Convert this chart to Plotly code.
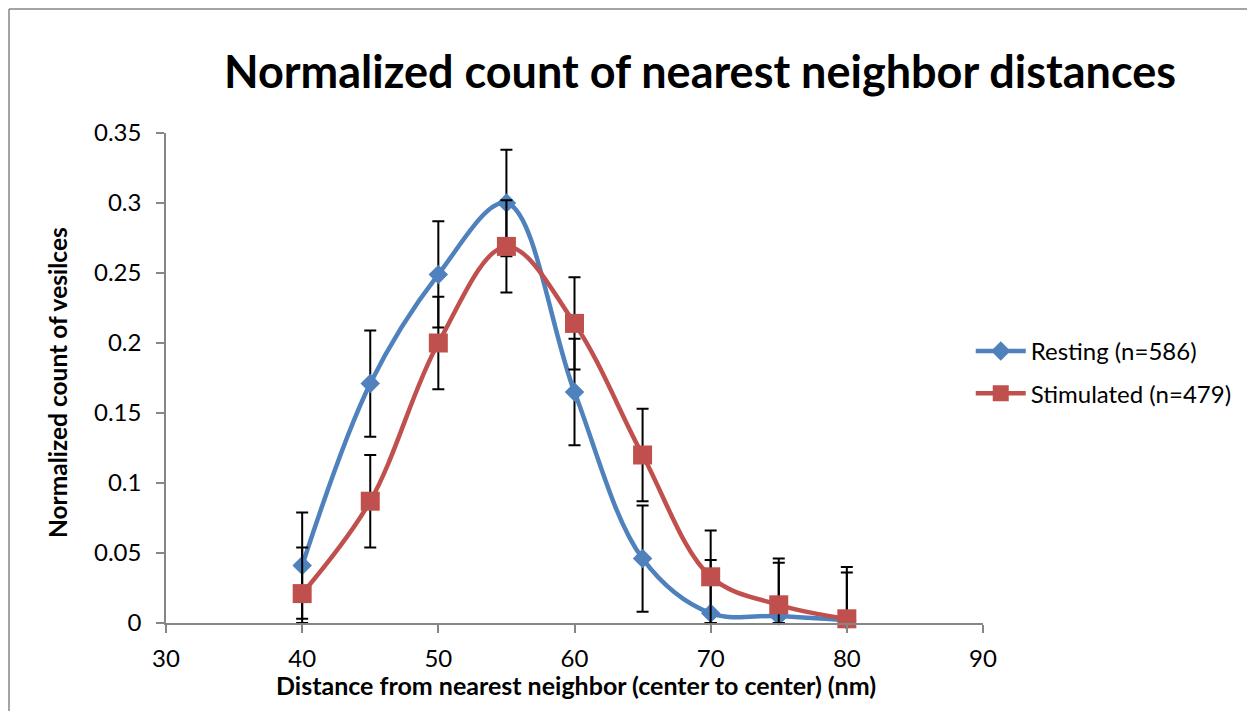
import plotly.graph_objects as go

distance = [40, 45, 50, 55, 60, 65, 70, 75, 80]
resting = [0.041, 0.171, 0.249, 0.300, 0.165, 0.046, 0.007, 0.005, 0.002]
resting_err = [0.038, 0.038, 0.038, 0.038, 0.038, 0.038, 0.038, 0.038, 0.038]
stimulated = [0.021, 0.087, 0.200, 0.269, 0.214, 0.120, 0.033, 0.013, 0.003]
stimulated_err = [0.033, 0.033, 0.033, 0.033, 0.033, 0.033, 0.033, 0.033, 0.033]

x_ticks = [30, 40, 50, 60, 70, 80, 90]
y_ticks = [0, 0.05, 0.1, 0.15, 0.2, 0.25, 0.3, 0.35]
y_tick_text = ["0", "0.05", "0.1", "0.15", "0.2", "0.25", "0.3", "0.35"]

FONT = "Lato"
AXIS_COLOR = "#868686"
BLUE = "#4F81BD"
RED = "#C0504D"
OFF = 8  # default page body margin

fig = go.Figure()

series = [
    ("Resting (n=586)", resting, resting_err, BLUE, "diamond", 15),
    ("Stimulated (n=479)", stimulated, stimulated_err, RED, "square", 19),
]
for name, vals, errs, color, sym, size in series:
    err_minus = [min(e, v) for e, v in zip(errs, vals)]
    fig.add_trace(go.Scatter(
        x=distance, y=vals, name=name, mode="lines+markers", legendgroup=name,
        line=dict(color=color, width=4.5, shape="spline", smoothing=1.0),
        marker=dict(symbol=sym, size=size, color=color, line=dict(width=0)),
        error_y=dict(type="data", array=errs, arrayminus=err_minus,
                     symmetric=False, color="black", thickness=2, width=6),
        cliponaxis=False,
    ))

bx0 = (9 - 166) / 817
by1 = (623 - 9) / 490
fig.update_layout(
    width=1255, height=711,
    paper_bgcolor="white", plot_bgcolor="white",
    margin=dict(l=166 - OFF, r=272 + OFF, t=133 - OFF, b=88 + OFF),
    font=dict(family=FONT, color="black", size=24),
    title=dict(text="<b>Normalized count of nearest neighbor distances</b>",
               font=dict(family=FONT, size=45, color="black"),
               xref="paper", x=(700 - 166) / 817, xanchor="center",
               yref="container", y=1 - (72 - OFF) / 711, yanchor="middle"),
    showlegend=True,
    legend=dict(x=0.985, y=0.6, xanchor="left", yanchor="top",
                font=dict(family=FONT, size=24, color="black"),
                itemwidth=50, bgcolor="rgba(0,0,0,0)", tracegroupgap=8),
    xaxis=dict(range=[30, 90], tickvals=x_ticks, ticks="outside", ticklen=8,
               tickcolor=AXIS_COLOR, tickwidth=1.5, showline=True,
               linecolor=AXIS_COLOR, linewidth=1.5, showgrid=False,
               zeroline=False, tickfont=dict(size=24, family=FONT),
               ticklabelstandoff=5),
    yaxis=dict(range=[0, 0.35], tickvals=y_ticks, ticktext=y_tick_text,
               ticks="outside", ticklen=8, tickcolor=AXIS_COLOR, tickwidth=1.5,
               showline=True, linecolor=AXIS_COLOR, linewidth=1.5,
               showgrid=False, zeroline=False,
               tickfont=dict(size=24, family=FONT), ticklabelstandoff=10),
    annotations=[
        dict(text="<b>Normalized count of vesilces</b>", xref="paper", yref="paper",
             x=(57 - 166) / 817, y=(623 - 383) / 490, textangle=-90,
             showarrow=False, font=dict(family=FONT, size=24.5, color="black"),
             xanchor="center", yanchor="middle"),
        dict(text="<b>Distance from nearest neighbor (center to center) (nm)</b>",
             xref="paper", yref="paper", x=(576 - 166) / 817, y=(623 - 685) / 490,
             showarrow=False, font=dict(family=FONT, size=25, color="black"),
             xanchor="center", yanchor="middle"),
    ],
    shapes=[
        dict(type="line", xref="paper", yref="paper",
             x0=bx0, x1=bx0, y0=(623 - 740) / 490, y1=by1,
             line=dict(color=AXIS_COLOR, width=1.5), layer="below"),
        dict(type="line", xref="paper", yref="paper",
             x0=bx0, x1=(1262 - 166) / 817, y0=by1, y1=by1,
             line=dict(color=AXIS_COLOR, width=1.5), layer="below"),
    ],
)

fig.write_html("out.html")
